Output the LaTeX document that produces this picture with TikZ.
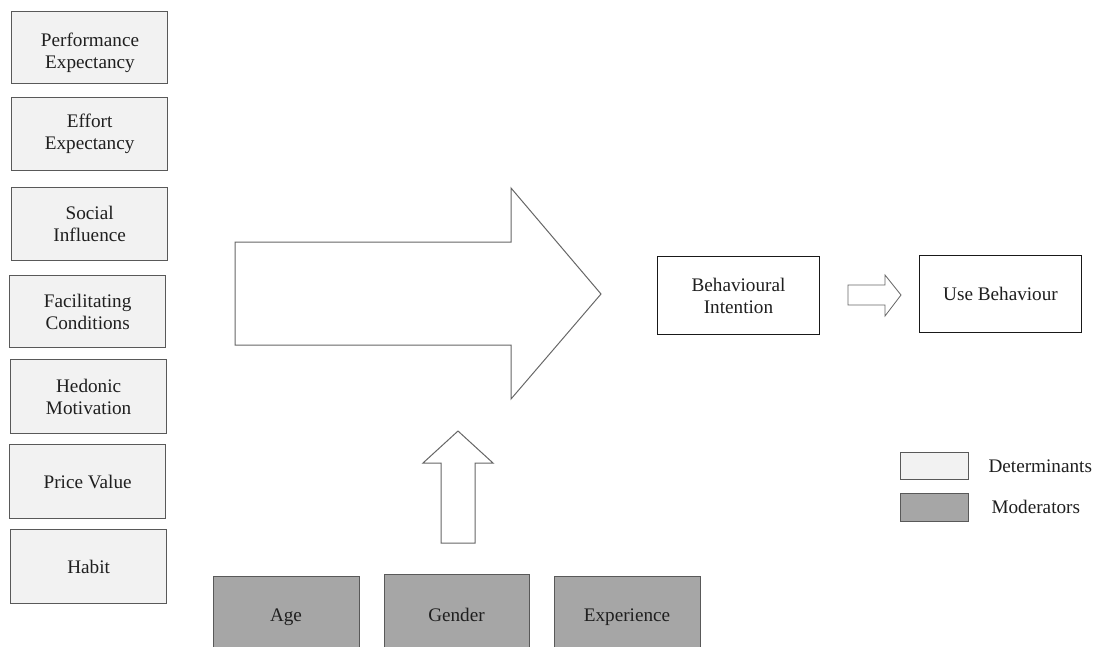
\documentclass[tikz,border=0pt]{standalone}
\usepackage{fontspec}
\setmainfont{Liberation Serif}
\begin{document}
\begin{tikzpicture}[x=1pt,y=-1pt,
  txt/.style={font=\fontsize{19.2}{22}\selectfont, text=black!88, align=center},
  detbox/.style={txt, draw=black!65, line width=1.3pt, fill=black!5, inner sep=0pt, anchor=north west},
  modbox/.style={txt, draw=black!65, line width=1pt, fill=black!35, inner sep=0pt, anchor=north west},
  outbox/.style={txt, draw=black!90, line width=1pt, fill=white, inner sep=0pt, anchor=north west},
  blockarrow/.style={draw=black!60, line width=1pt, fill=white, line join=miter}]
\useasboundingbox (0,0) rectangle (1094,646);
\fill[white] (0,0) rectangle (1094,646);
% determinants
\node[detbox, minimum width=156pt, minimum height=72pt] (pe) at (11,11) {};
\node[txt] (pet) at (90,53) {Performance\\Expectancy};
\node[detbox, minimum width=156pt, minimum height=73pt] (ee) at (11,97) {Effort\\Expectancy};
\node[detbox, minimum width=156pt, minimum height=73pt] (si) at (11,187) {Social\\Influence};
\node[detbox, minimum width=156pt, minimum height=72pt] (fc) at (9,275) {Facilitating\\Conditions};
\node[detbox, minimum width=156pt, minimum height=74pt] (hm) at (10,359) {Hedonic\\Motivation};
\node[detbox, minimum width=156pt, minimum height=74pt] (pv) at (9,444) {Price Value};
\node[detbox, minimum width=156pt, minimum height=74pt] (hb) at (10,529) {Habit};
% big arrow
\draw[blockarrow] (235,242) -- (511,242) -- (511,188) -- (601,294) -- (511,399) -- (511,345) -- (235,345) -- cycle;
% outcome boxes
\node[outbox, minimum width=162pt, minimum height=78pt] (bi) at (657,256) {Behavioural\\Intention};
\node[outbox, minimum width=162pt, minimum height=77pt] (ub) at (919,255) {Use Behaviour};
% small arrow
\draw[blockarrow, line width=0.8pt] (848,285) -- (885,285) -- (885,275) -- (901,295) -- (885,316) -- (885,305) -- (848,305) -- cycle;
% up arrow
\draw[blockarrow] (441,543) -- (441,463) -- (423,463) -- (458,431) -- (493,463) -- (475,463) -- (475,543) -- cycle;
% moderators
\node[modbox, minimum width=146pt, minimum height=80pt] (age) at (213,576) {};
\node[txt, anchor=base] (aget) at (286,621) {Age};
\node[modbox, minimum width=145pt, minimum height=80pt] (gen) at (384,574) {};
\node[txt, anchor=base] (gent) at (456.5,621) {Gender};
\node[modbox, minimum width=146pt, minimum height=80pt] (exp) at (554,576) {};
\node[txt, anchor=base] (expt) at (627,621) {Experience};
% legend
\node[detbox, line width=1pt, minimum width=68pt, minimum height=27pt] (legd) at (900,452) {};
\node[modbox, minimum width=68pt, minimum height=28pt] (legm) at (900,493) {};
\node[txt, anchor=west] (legdt) at (985,466) {Determinants};
\node[txt, anchor=west] (legmt) at (988,507) {Moderators};
\end{tikzpicture}
\end{document}
